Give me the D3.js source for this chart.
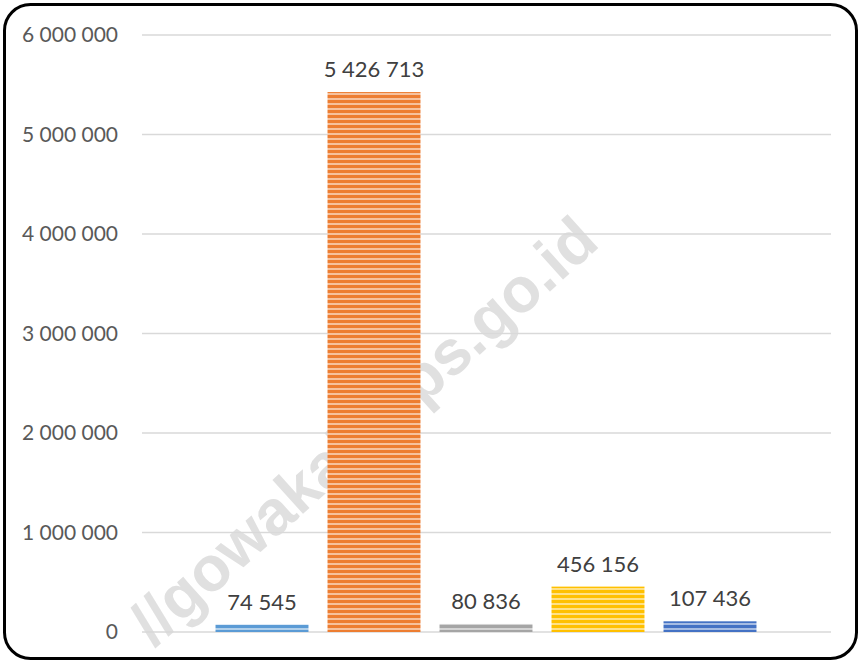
<!DOCTYPE html>
<html><head><meta charset="utf-8">
<script src="https://cdn.jsdelivr.net/npm/d3@7"></script>
<style>html,body{margin:0;padding:0;background:#fff;}svg{display:block;}</style>
</head><body>
<svg id="c" width="860" height="662"></svg>
<script>
const categories = ["Kategori 1", "Kategori 2", "Kategori 3", "Kategori 4", "Kategori 5"];
const values = [74545, 5426713, 80836, 456156, 107436];
const colors = ["#5B9BD5", "#ED7D31", "#A5A5A5", "#FFC000", "#4472C4"];
const yTicks = [0, 1000000, 2000000, 3000000, 4000000, 5000000, 6000000];
const watermark = "//gowakab.bps.go.id";

const svg = d3.select("#c");
const fmt = v => d3.format(",")(v).replace(/,/g, " ");
const font = "Lato, 'Open Sans', sans-serif";

const y = d3.scaleLinear().domain([0, 6000000]).range([632, 35]);
const x = d3.scaleBand().domain(categories).range([206, 766]).paddingInner(0.17).paddingOuter(0.085);

// patterns
const defs = svg.append("defs");
colors.forEach((c, i) => {
  const p = defs.append("pattern").attr("id", "p" + i).attr("patternUnits", "userSpaceOnUse")
    .attr("width", 10).attr("height", 5);
  p.append("rect").attr("width", 10).attr("height", 5).attr("fill", c);
  p.append("rect").attr("y", 3.3).attr("width", 10).attr("height", 1.4).attr("fill", "#fff").attr("opacity", 0.75);
});

// watermark
svg.append("text").attr("transform", "translate(154,648) rotate(-42)")
  .attr("font-family", "'Liberation Sans', Arial, sans-serif").attr("font-weight", "bold")
  .attr("font-size", 63).attr("fill", "#e0e0e0").text(watermark);

// gridlines
svg.append("g").selectAll("line").data(yTicks).join("line")
  .attr("x1", 142).attr("x2", 831).attr("y1", d => y(d)).attr("y2", d => y(d))
  .attr("stroke", "#d9d9d9").attr("stroke-width", 1.5);

// y labels
svg.append("g").selectAll("text").data(yTicks).join("text")
  .attr("x", 118).attr("y", d => y(d)).attr("dy", "0.35em").attr("text-anchor", "end")
  .attr("font-family", font).attr("font-size", 21).attr("fill", "#595959").text(d => fmt(d));

// bars
svg.append("g").selectAll("rect").data(values).join("rect")
  .attr("x", (d, i) => x(categories[i])).attr("width", x.bandwidth())
  .attr("y", d => y(d)).attr("height", d => y(0) - y(d))
  .attr("fill", (d, i) => "url(#p" + i + ")");

// data labels
svg.append("g").selectAll("text").data(values).join("text")
  .attr("x", (d, i) => x(categories[i]) + x.bandwidth() / 2).attr("y", d => y(d) - 15)
  .attr("text-anchor", "middle").attr("font-family", font).attr("font-size", 22)
  .attr("fill", "#404040").text(d => fmt(d));

// border
svg.append("rect").attr("x", 4.5).attr("y", 4.5).attr("width", 852).attr("height", 654)
  .attr("rx", 26).attr("fill", "none").attr("stroke", "#000").attr("stroke-width", 3);
</script>
</body></html>
